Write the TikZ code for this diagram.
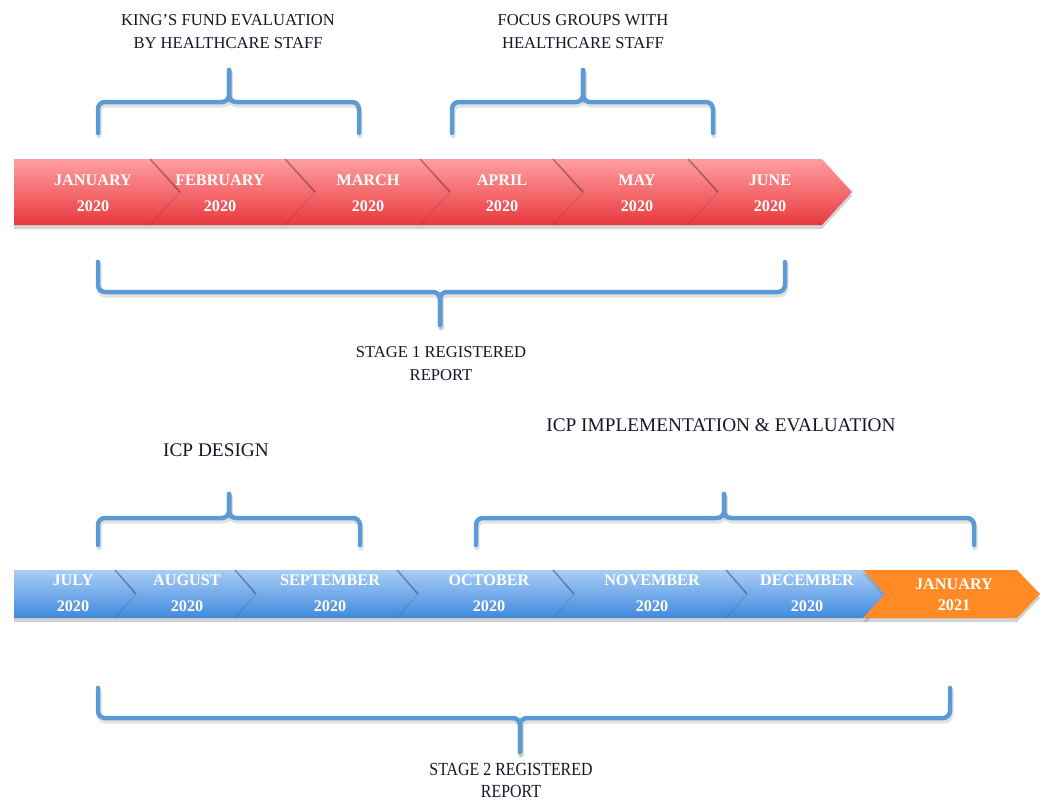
\documentclass[tikz,border=0pt]{standalone}
\usepackage{fontspec}
\setmainfont{Liberation Serif}
\newfontfamily\condserif[FakeStretch=0.86]{Liberation Serif}
\usetikzlibrary{shadows}
\definecolor{bracec}{HTML}{5B9BD5}
\definecolor{redtop}{HTML}{FF9EA0}
\definecolor{redbot}{HTML}{E8393E}
\definecolor{bluetop}{HTML}{AACDF7}
\definecolor{bluebot}{HTML}{3F89DC}
\definecolor{orangec}{HTML}{FF8A26}
\definecolor{txtc}{HTML}{15152A}
\newcommand{\hbrace}[6]{%
  \draw[brshadow] (#1,#5) -- (#1,#4) -- (#3,#4) -- (#3,#6);
  \draw[brshadow] (#2,#5) -- (#2,#4) -- (#3,#4) -- (#3,#6);
  \draw[brc] (#1,#5) -- (#1,#4) -- (#3,#4) -- (#3,#6);
  \draw[brc] (#2,#5) -- (#2,#4) -- (#3,#4) -- (#3,#6);
}
\tikzset{
  brc/.style={draw=bracec, line width=4.5pt, rounded corners=7pt, line cap=round},
  brshadow/.style={draw=black!45, opacity=0.25, line width=5pt, rounded corners=7pt, line cap=round, transform canvas={xshift=1pt,yshift=-3pt}},
  mon/.style={text=white, align=center, font=\fontsize{16.2}{26}\selectfont\bfseries},
  lab/.style={text=txtc, align=center, font=\fontsize{16.6}{23}\selectfont},
  biglab/.style={text=txtc, align=center, font=\fontsize{19.3}{23}\selectfont},
  divtop/.style={draw=black, opacity=0.3, line width=1.6pt},
  divbot/.style={draw=black, opacity=0.1, line width=1pt},
}
\begin{document}
\begin{tikzpicture}[x=1pt,y=-1pt]
\useasboundingbox (0,0) rectangle (1045,803);
% ---------- red band ----------
\path[top color=redtop, bottom color=redbot, drop shadow={shadow xshift=0pt, shadow yshift=-4pt, opacity=0.35}]
  (14,159) -- (822,159) -- (852,192) -- (822,225) -- (14,225) -- cycle;
\foreach \x in {150,285,420,553,688}{
  \draw[divtop] (\x,159) -- (\x+30,192);
  \draw[divbot] (\x+30,192) -- (\x,225);
}
\node[mon] (jan) at (93,193) {JANUARY\\2020};
\node[mon] (feb) at (220,193) {FEBRUARY\\2020};
\node[mon] (mar) at (368,193) {MARCH\\2020};
\node[mon] (apr) at (502,193) {APRIL\\2020};
\node[mon] (may) at (637,193) {MAY\\2020};
\node[mon] (jun) at (770,193) {JUNE\\2020};
% ---------- blue band ----------
\path[top color=bluetop, bottom color=bluebot, drop shadow={shadow xshift=0pt, shadow yshift=-4pt, opacity=0.35}]
  (14,570) -- (867,570) -- (888,594) -- (867,618) -- (14,618) -- cycle;
\foreach \x in {115,235,397,553,726}{
  \draw[divtop] (\x,570) -- (\x+21,594);
  \draw[divbot] (\x+21,594) -- (\x,618);
}
\path[fill=orangec, drop shadow={shadow xshift=0pt, shadow yshift=-4pt, opacity=0.35}]
  (863,570) -- (1017,570) -- (1040,594) -- (1017,618) -- (863,618) -- (885,594) -- cycle;
\node[mon] (jul) at (73,593) {JULY\\2020};
\node[mon] (aug) at (187,593) {AUGUST\\2020};
\node[mon] (sep) at (330,593) {SEPTEMBER\\2020};
\node[mon] (oct) at (489,593) {OCTOBER\\2020};
\node[mon] (nov) at (652,593) {NOVEMBER\\2020};
\node[mon] (dec) at (807,593) {DECEMBER\\2020};
\node[mon, font=\fontsize{16.2}{21}\selectfont\bfseries] (jan21) at (954,595) {JANUARY\\2021};
% ---------- braces ----------
\hbrace{98}{359}{229}{102}{133}{70}
\hbrace{452}{713}{583}{102}{133}{70}
\hbrace{98}{785}{440}{292}{262}{325}
\hbrace{98}{360}{229}{518}{545}{494}
\hbrace{476}{974}{724}{518}{545}{494}
\hbrace{98}{950}{520}{718}{688}{752}
% ---------- labels ----------
\node[lab] (kf) at (228,31.5) {KING'S FUND EVALUATION\\BY HEALTHCARE STAFF};
\node[lab] (fg) at (583,31.5) {FOCUS GROUPS WITH\\HEALTHCARE STAFF};
\node[lab] (s1) at (441,363.5) {STAGE 1 REGISTERED\\REPORT};
\node[biglab] (icpd) at (216,450) {ICP DESIGN};
\node[biglab] (icpi) at (721,425) {ICP IMPLEMENTATION \& EVALUATION};
\node[lab, font=\fontsize{18.5}{22}\selectfont\condserif] (s2) at (511,780) {STAGE 2 REGISTERED\\REPORT};
\end{tikzpicture}
\end{document}
